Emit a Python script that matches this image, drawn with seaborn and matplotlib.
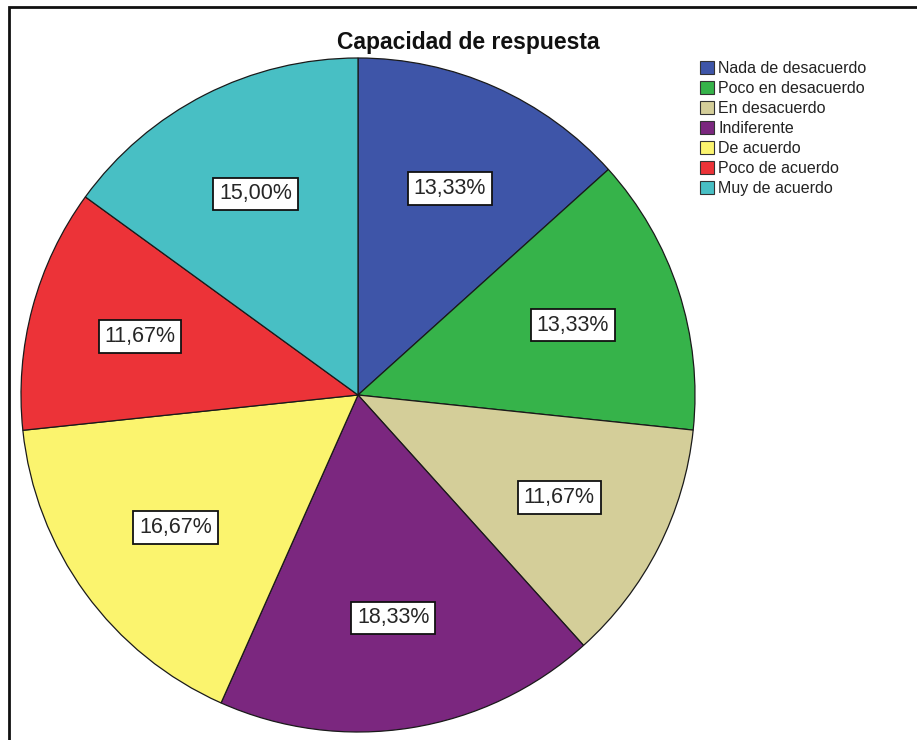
import matplotlib
matplotlib.use("Agg")
import matplotlib.pyplot as plt
import seaborn as sns
from matplotlib.patches import Rectangle, Patch

categories = ["Nada de desacuerdo", "Poco en desacuerdo", "En desacuerdo",
              "Indiferente", "De acuerdo", "Poco de acuerdo", "Muy de acuerdo"]
values = [13.33, 13.33, 11.67, 18.33, 16.67, 11.67, 15.00]
colors = ["#3E55A8", "#36B34A", "#D4CE99", "#7B277F", "#FBF46E", "#EC3338", "#48BFC4"]
title = "Capacidad de respuesta"

sns.set_theme(style="white")
plt.rcParams['font.family'] = ['Liberation Sans', 'DejaVu Sans']

W, H = 917, 740
fig = plt.figure(figsize=(W / 100, H / 100), dpi=100)
fig.patch.set_facecolor("white")

cx, cy, r = 358, 395, 337
ax = fig.add_axes([(cx - r) / W, (H - cy - r) / H, 2 * r / W, 2 * r / H])
palette = sns.color_palette(colors)

def fmt(p):
    return f"{p:.2f}%".replace(".", ",")

wedges, texts, autotexts = ax.pie(
    values, colors=palette, startangle=90, counterclock=False,
    autopct=fmt, pctdistance=0.67, radius=1,
    wedgeprops=dict(edgecolor="#1a1a1a", linewidth=0.9),
    textprops=dict(fontsize=15.5, color="#262626"))
for t in autotexts:
    t.set_bbox(dict(boxstyle="square,pad=0.27", facecolor="white",
                    edgecolor="#111111", linewidth=1.3))
ax.set_xlim(-1, 1)
ax.set_ylim(-1, 1)
ax.set_aspect("equal")
ax.axis("off")

fig.text(468 / W, 1 - 42 / H, title, ha="center", va="center",
         fontsize=16.5, fontweight="bold", color="#111111")

handles = [Patch(facecolor=c, edgecolor="#333333", linewidth=0.8) for c in palette]
fig.legend(handles, categories, loc="upper left",
           bbox_to_anchor=(700 / W, 1 - 61 / H), frameon=False,
           fontsize=11.5, handlelength=0.85, handleheight=0.85,
           handletextpad=0.3, labelspacing=0.31, borderpad=0, borderaxespad=0,
           labelcolor="#222222")

fig.add_artist(Rectangle((9 / W, -0.1), 1.2, (H - 7) / H + 0.1,
                         transform=fig.transFigure, fill=False,
                         edgecolor="#111111", linewidth=2.0))

fig.savefig("out.png", dpi=100)
